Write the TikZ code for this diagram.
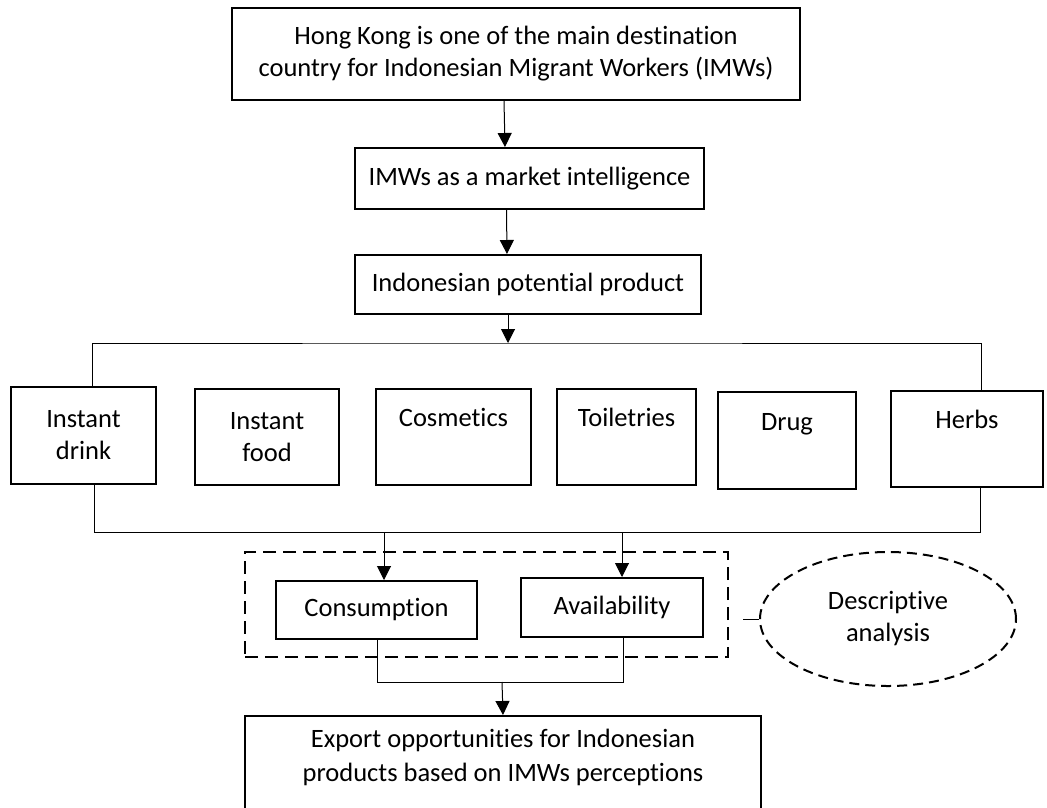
\documentclass[tikz,border=0pt]{standalone}
\usepackage{fontspec}
\setmainfont{Carlito}[Ligatures=NoCommon]
\usetikzlibrary{arrows.meta,shapes.geometric}
\begin{document}
\begin{tikzpicture}[x=1pt,y=-1pt,
  txt/.style={font=\fontsize{26.5}{32}\selectfont},
  box/.style={txt,draw,line width=2pt,inner sep=0pt,align=center},
  one/.style={text height=18pt,text depth=39pt},
  conn/.style={line width=1pt},
  arr/.style={conn,-{Triangle[width=14pt,length=14pt]}},
  grpbox/.style={draw,line width=2.3pt,dash pattern=on 13pt off 7pt,inner sep=0pt},
  ell/.style={txt,ellipse,draw,line width=2pt,dash pattern=on 10pt off 6pt,inner sep=0pt,align=center}
]
\useasboundingbox (0,0) rectangle (1047,807);

\node[box,minimum width=568pt,minimum height=92pt] (top) at (516,54)
  {Hong Kong is one of the main destination\\country for Indonesian Migrant Workers (IMWs)};
\node[box,minimum width=349pt,minimum height=61pt] (mi) at (529.5,178.5) {IMWs as a market intelligence};
\node[box,minimum width=346pt,minimum height=59pt] (pp) at (528,284.5) {Indonesian potential product};

\node[box,minimum width=145pt,minimum height=97pt] (drink) at (83.5,435.5) {Instant\\drink};
\node[box,minimum width=144pt,minimum height=96pt] (food) at (267,437) {Instant\\food};
\node[box,one,minimum width=155pt,minimum height=96pt] (cos) at (453.5,437) {Cosmetics};
\node[box,one,minimum width=139pt,minimum height=96pt] (toil) at (626.5,437) {Toiletries};
\node[box,one,minimum width=138pt,minimum height=97pt] (drug) at (787,440.5) {Drug};
\node[box,one,minimum width=152pt,minimum height=96pt] (herbs) at (967,439) {Herbs};

\node[grpbox,minimum width=483pt,minimum height=105pt] (grp) at (486.5,604.5) {};
\node[box,minimum width=201pt,minimum height=58pt] (cons) at (376.5,610) {Consumption};
\node[box,minimum width=182pt,minimum height=59pt] (avail) at (612,607.5) {Availability};
\node[ell,minimum width=256pt,minimum height=134pt] (desc) at (888,619) {Descriptive\\analysis};

\node[box,font=\fontsize{26.5}{34}\selectfont,minimum width=516pt,minimum height=112pt,anchor=north] (exp) at (503,715)
  {Export opportunities for Indonesian\\products based on IMWs perceptions\\\mbox{}};

% connectors
\draw[arr] ([xshift=-12pt]top.south) -- ([xshift=-24.5pt]mi.north);
\draw[arr] ([xshift=-23pt]mi.south) -- ([xshift=-21pt]pp.north);
\coordinate (bus) at (508,343);
\draw[arr] ([xshift=-20pt]pp.south) -- (bus);
\draw[conn] ([xshift=8.5pt]drink.north) |- (bus) -| ([xshift=14pt]herbs.north);
\coordinate (lbus) at (500,532);
\draw[conn] ([xshift=10.5pt]drink.south) |- (lbus) -| ([xshift=13pt]herbs.south);
\coordinate (c1) at ([xshift=7.5pt]cons.north);
\coordinate (a1) at ([xshift=10pt]avail.north);
\draw[arr] (c1 |- lbus) -- (c1);
\draw[arr] (a1 |- lbus) -- (a1);
\coordinate (jn) at (502,682);
\draw[conn] ([xshift=0.5pt]cons.south) |- (jn) -| ([xshift=11pt]avail.south);
\draw[arr] (jn) -- (exp.north);
\coordinate (gl) at ([xshift=14pt]grp.east);
\draw[conn] (gl |- desc.west) -- (desc.west);
\end{tikzpicture}
\end{document}
